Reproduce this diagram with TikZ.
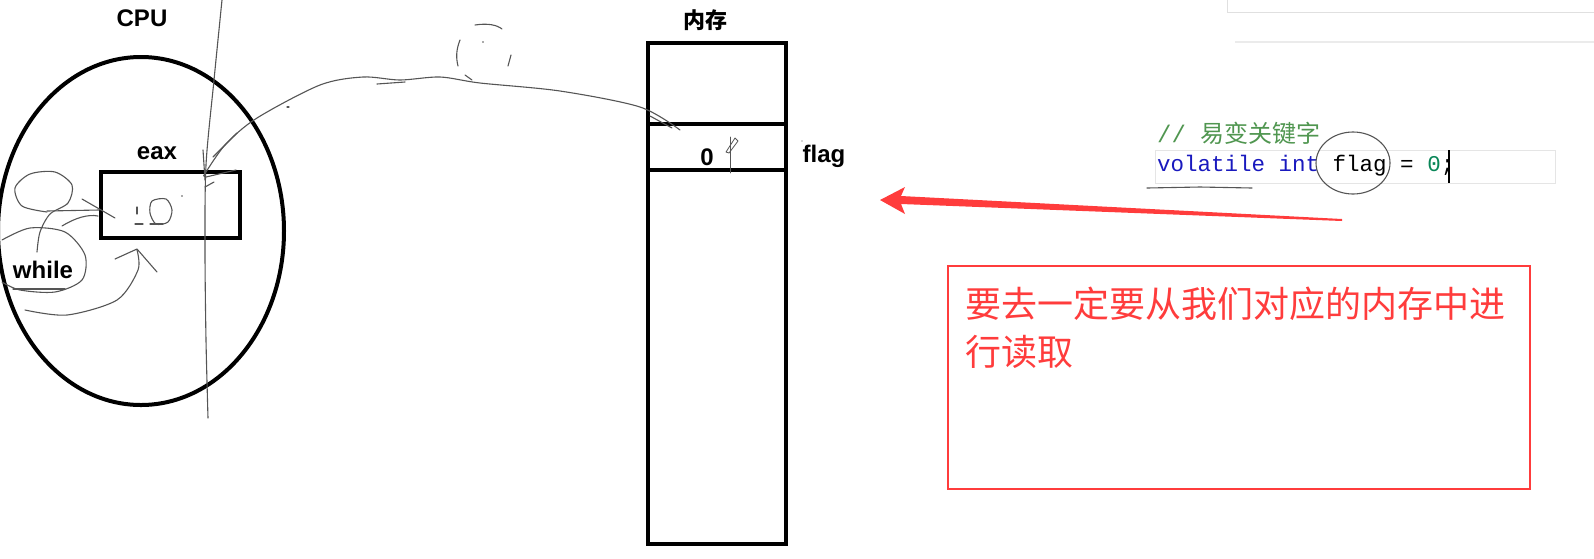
\documentclass[tikz,border=0pt]{standalone}
\usepackage{fontspec}
\setmainfont{Liberation Sans}
\newfontfamily\cjk{Noto Sans CJK SC}
\newfontfamily\codefont{Liberation Mono}
\usetikzlibrary{shapes.geometric,calc}
\definecolor{pencol}{RGB}{85,85,85}
\definecolor{redc}{RGB}{255,60,60}
\definecolor{kwc}{RGB}{25,25,190}
\definecolor{cmtc}{RGB}{80,150,80}
\definecolor{numc}{RGB}{9,134,88}
\tikzset{
  pen/.style={draw=pencol,line width=1.1pt,line cap=round,line join=round},
  lbl/.style={font=\bfseries\fontsize{24}{28}\selectfont,inner sep=0pt},
  thick box/.style={draw=black,line width=4pt,inner sep=0pt},
}
\begin{document}
\begin{tikzpicture}[x=1pt,y=-1pt]
\useasboundingbox (0,0) rectangle (1594,558);
% ---------- CPU ----------
\node[lbl] (cpulbl) at (142,18) {CPU};
\node[thick box,ellipse,minimum width=286pt,minimum height=348pt] (cpu) at (141,231) {};
\node[thick box,minimum width=139pt,minimum height=66pt] (eax) at (170,205) {};
\node[lbl] (eaxlbl) at (157,153) {eax};
\node[lbl] (while) at (43,270) {while};
% vertical pencil line
\draw[pen] plot[smooth] coordinates {(222,0) (214,80) (206,165) (205,250) (206,340) (208,418)};
% scribbles around while
\draw[pen] plot[smooth] coordinates {(47,212) (22,206) (15,188) (30,174) (55,172) (72,185) (68,203) (50,214) (40,232) (37,252)};
\draw[pen] plot[smooth] coordinates {(2,240) (30,228) (65,232) (85,255) (82,280) (55,292) (20,290) (2,282)};
\draw[pen] (13,289) -- (65,289);
\draw[pen] (47,211) -- (99,210);
\draw[pen] (82,199) -- (115,218);
\draw[pen] (62,226) .. controls (75,218) and (88,214) .. (98,216);
\draw[pen] plot[smooth] coordinates {(25,310) (67,315) (117,300) (138,270) (137,250)};
\draw[pen] (115,259) -- (137,249) -- (157,272);
% inside eax
\draw[pen] plot[smooth cycle] coordinates {(152,201) (166,199) (172,210) (168,222) (156,224) (150,213)};
\draw[pen] (137,207) -- (137,214);
\draw[pen] (135,224) -- (143,224);
\draw[pen] (150,224) -- (163,224);
\fill[pencol] (182,196) circle (0.8pt);
% ---------- memory ----------
\node[lbl,font=\cjk\bfseries\fontsize{22}{26}\selectfont] (memlbl) at (705,20) {内存};
\node[thick box,minimum width=138pt,minimum height=81pt] (cell1) at (717,83.5) {};
\node[thick box,minimum width=138pt,minimum height=46pt] (flagcell) at (717,147) {};
\node[thick box,minimum width=138pt,minimum height=374pt] (cell3) at (717,357) {};
\node[lbl] (zero) at (707,157) {0};
\node[lbl] (flaglbl) at (824,156) {flag};
\draw[pen,line width=0.8pt] (730,137) -- (730,173);
\draw[pen,line width=0.8pt] (726,152) -- (735,138) -- (738,141) -- (729,153) -- cycle;
\fill[pencol] (802,141) circle (0.7pt);
% ---------- connector memory -> eax ----------
\coordinate (cstart) at ($(flagcell.north west)+(34,8)$);
\coordinate (cend) at ($(eax.north west)+(105,6)$);
\draw[pen] plot[smooth] coordinates {(cstart) (640,107) (560,91) (480,83) (440,77) (400,80) (363,77) (320,85) (257,118) (225,145) (cend)};
\draw[pen] (203,150) -- (205,180);
\draw[pen] (206,177) -- (236,170);
\draw[pen] (205,187) -- (214,182);
\draw[pen] (213,157) -- (237,133);
\draw[pen] (287,107) -- (289,107);
\draw[pen] (377,84) -- (405,82);
\draw[pen] (672,128) -- (650,116);
% broken pencil circle
\draw[pen] (475,25) .. controls (488,23) and (497,25) .. (502,29);
\draw[pen] (460,40) .. controls (456,50) and (456,58) .. (458,66);
\draw[pen] (511,55) -- (508,66);
\draw[pen] (465,75) -- (472,80);
\fill[pencol] (483,42) circle (0.8pt);
% ---------- code snippet ----------
\draw[black!12,line width=0.8pt] (1227,0) -- (1227,12) -- (1594,12);
\draw[black!8,line width=1.5pt] (1235,42) -- (1594,42);
\node[draw=black!10,line width=0.8pt,minimum width=400pt,minimum height=33pt,inner sep=0pt] (codebg) at (1355,166.5) {};
\node[anchor=west,inner sep=0pt] (comment) at (1157,133)
  {\codefont\fontsize{24}{26}\selectfont\color{cmtc}// {\cjk\fontsize{24}{26}\selectfont 易变关键字}};
\node[anchor=west,inner sep=0pt,font=\codefont\fontsize{22.5}{25}\selectfont] (code) at (1157,166)
  {\textcolor{kwc}{volatile int} flag = \textcolor{numc}{0};};
\draw[black,line width=2pt] (1449,150) -- (1449,183);
\node[pen,ellipse,minimum width=74pt,minimum height=62pt,inner sep=0pt] (flagcircle) at (1353,163) {};
\draw[pen] (1147,188) -- (1200,187) -- (1252,188);
% ---------- red arrow ----------
\coordinate (arrtip) at (880,200);
\coordinate (arrtail) at (1342,220);
\fill[redc] (arrtip) -- (905,187) -- (901,196) -- ($(arrtail)+(0,-1)$) -- ($(arrtail)+(0,1)$) -- (901,204) -- (905,214) -- cycle;
% ---------- red note ----------
\node[draw=redc,line width=1.8pt,minimum width=582pt,minimum height=223pt,inner sep=0pt] (notebox) at (1239,377.5) {};
\node[anchor=north west,inner sep=0pt,align=left,text=redc,font=\cjk\fontsize{36}{48}\selectfont] (note) at (965,287)
  {要去一定要从我们对应的内存中进\\行读取};
\end{tikzpicture}
\end{document}
